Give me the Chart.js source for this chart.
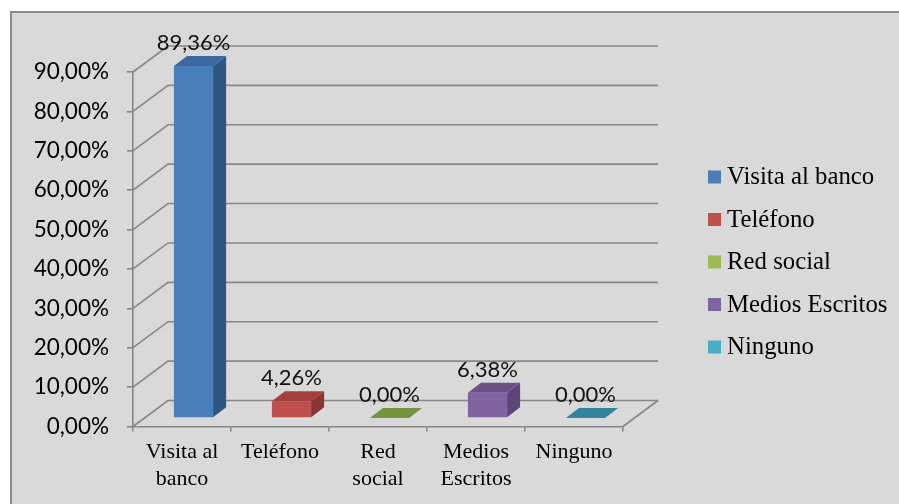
<!DOCTYPE html>
<html>
<head>
<meta charset="utf-8">
<script src="https://cdn.jsdelivr.net/npm/chart.js@4/dist/chart.umd.min.js"></script>
<style>
  html, body { margin: 0; padding: 0; background: #ffffff; }
  canvas { display: block; }
</style>
</head>
<body>
<canvas id="chart" width="899" height="504"></canvas>
<script>
// Medio de contacto preferido por los clientes (porcentaje de respuestas)
const categories = [["Visita al", "banco"], "Teléfono", ["Red", "social"], ["Medios", "Escritos"], "Ninguno"];
const legendNames = ["Visita al banco", "Teléfono", "Red social", "Medios Escritos", "Ninguno"];
const shares = [0.8936, 0.0426, 0.0, 0.0638, 0.0];
const axisMax = 0.9;
const axisStep = 0.1;

// Colour palette: front, side and top faces of each column
const frontColors = ["#4a7ebb", "#c0504d", "#9bbb59", "#8064a2", "#4bacc6"];
const sideColors  = ["#2f5583", "#8c3431", "#6d8a35", "#5b4677", "#2f7f95"];
const topColors   = ["#3d69a0", "#a63f3c", "#76923c", "#6a5188", "#31849b"];

const pct = v => (v * 100).toFixed(2).replace(".", ",") + "%";

// 3D geometry (pixels)
const FLOOR_DX = 35, FLOOR_DY = -26;   // depth of floor / walls
const BAR_OX = 11.5, BAR_OY = -8.5;    // where the column fronts sit in depth
const BAR_DX = 13, BAR_DY = -10;       // depth of each column
const LINE_COLOR = "#878787";

const panelPlugin = {
  id: "panel",
  beforeDraw(chart) {
    const ctx = chart.ctx;
    ctx.save();
    ctx.fillStyle = "#ffffff";
    ctx.fillRect(0, 0, chart.width, chart.height);
    ctx.fillStyle = "#d9d9d9";
    ctx.fillRect(12, 13, chart.width - 12, chart.height - 13);
    ctx.fillStyle = "#8a8a8a";
    ctx.fillRect(10, 11, 2, chart.height - 11);
    ctx.fillRect(10, 11, chart.width - 10, 2);
    ctx.restore();
  }
};

const depthPlugin = {
  id: "depth",
  beforeDatasetsDraw(chart) {
    const ctx = chart.ctx;
    const y = chart.scales.y, x = chart.scales.x;
    const left = x.left, right = x.right;
    ctx.save();
    ctx.strokeStyle = LINE_COLOR;
    ctx.lineWidth = 1.6;
    // back wall gridlines + left wall diagonals
    y.ticks.forEach(t => {
      const py = y.getPixelForValue(t.value);
      ctx.beginPath();
      ctx.moveTo(left, py);
      ctx.lineTo(left + FLOOR_DX, py + FLOOR_DY);
      ctx.lineTo(right + FLOOR_DX, py + FLOOR_DY);
      ctx.stroke();
    });
    // right edge of the floor
    const base = y.getPixelForValue(0);
    ctx.beginPath();
    ctx.moveTo(right, base);
    ctx.lineTo(right + FLOOR_DX, base + FLOOR_DY);
    ctx.stroke();
    ctx.restore();
    // columns are drawn in their depth plane
    ctx.save();
    ctx.translate(BAR_OX, BAR_OY);
  },
  afterDatasetsDraw(chart) {
    const ctx = chart.ctx;
    const meta = chart.getDatasetMeta(0);
    meta.data.forEach((bar, i) => {
      const p = bar.getProps(["x", "y", "base", "width"], true);
      const L = p.x - p.width / 2, R = p.x + p.width / 2;
      const T = Math.min(p.y, p.base), B = Math.max(p.y, p.base);
      if (B - T > 0.5) {
        ctx.fillStyle = sideColors[i];
        ctx.beginPath();
        ctx.moveTo(R, B);
        ctx.lineTo(R, T);
        ctx.lineTo(R + BAR_DX, T + BAR_DY);
        ctx.lineTo(R + BAR_DX, B + BAR_DY);
        ctx.closePath();
        ctx.fill();
      }
      ctx.fillStyle = topColors[i];
      ctx.beginPath();
      ctx.moveTo(L, T);
      ctx.lineTo(R, T);
      ctx.lineTo(R + BAR_DX, T + BAR_DY);
      ctx.lineTo(L + BAR_DX, T + BAR_DY);
      ctx.closePath();
      ctx.fill();
    });
    ctx.restore();

    // value labels above each column
    ctx.save();
    ctx.font = "22px Lato";
    ctx.fillStyle = "#111111";
    ctx.textAlign = "center";
    ctx.textBaseline = "middle";
    meta.data.forEach((bar, i) => {
      const p = bar.getProps(["x", "y"], true);
      ctx.fillText(pct(shares[i]), p.x + BAR_OX, p.y + BAR_OY - 23);
    });
    ctx.restore();
  }
};

const legendPlugin = {
  id: "sideLegend",
  afterDraw(chart) {
    const ctx = chart.ctx;
    ctx.save();
    ctx.font = "24.8px 'Liberation Serif'";
    ctx.textAlign = "left";
    ctx.textBaseline = "alphabetic";
    legendNames.forEach((name, i) => {
      const cy = 177 + i * 42.5;
      ctx.fillStyle = frontColors[i];
      ctx.fillRect(708, cy - 6.5, 13, 13);
      ctx.fillStyle = "#000000";
      ctx.fillText(name, 727, cy + 7);
    });
    ctx.restore();
  }
};

new Chart(document.getElementById("chart"), {
  type: "bar",
  data: {
    labels: categories,
    datasets: [{
      data: shares,
      backgroundColor: frontColors,
      borderWidth: 0,
      barPercentage: 0.4,
      categoryPercentage: 1.0,
      clip: false
    }]
  },
  options: {
    responsive: false,
    animation: false,
    devicePixelRatio: 1,
    layout: { padding: { top: 72, right: 276, left: 0, bottom: 0 } },
    plugins: {
      legend: { display: false },
      tooltip: { enabled: false }
    },
    scales: {
      x: {
        afterFit(scale) { scale.height = 77.5; },
        border: { display: true, color: LINE_COLOR, width: 1.6 },
        grid: { display: true, drawOnChartArea: false, drawTicks: true, tickLength: 5, color: LINE_COLOR, lineWidth: 1.6, offset: true },
        ticks: {
          color: "#000000",
          font: { family: "'Liberation Serif'", size: 22, lineHeight: 1.23 },
          padding: 7,
          maxRotation: 0,
          autoSkip: false
        }
      },
      y: {
        min: 0,
        max: axisMax,
        afterFit(scale) { scale.width = 133; },
        border: { display: true, color: LINE_COLOR, width: 1.6 },
        grid: { display: true, drawOnChartArea: false, drawTicks: true, tickLength: 6, color: LINE_COLOR, lineWidth: 1.6 },
        ticks: {
          stepSize: axisStep,
          color: "#000000",
          font: { family: "Lato", size: 22.5 },
          padding: 18,
          callback: v => pct(v)
        }
      }
    }
  },
  plugins: [panelPlugin, depthPlugin, legendPlugin]
});
</script>
</body>
</html>
